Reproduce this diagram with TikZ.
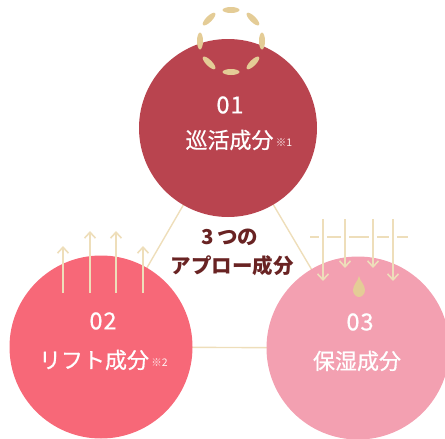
\documentclass[tikz,border=0pt]{standalone}
\usepackage{fontspec}
\setmainfont{Noto Sans CJK JP}
\newfontfamily\cjk{Noto Sans CJK JP}
\newfontfamily\cjkm[FakeBold=0.7]{Noto Sans CJK JP}
\usetikzlibrary{arrows.meta}
\definecolor{cTop}{RGB}{185,68,79}
\definecolor{cLeft}{RGB}{247,104,120}
\definecolor{cRight}{RGB}{243,160,177}
\definecolor{beige}{RGB}{238,222,186}
\definecolor{gold}{RGB}{228,204,150}
\definecolor{maroon}{RGB}{105,35,35}
\pgfdeclarelayer{bg}
\pgfsetlayers{bg,main}
\tikzset{
  ball/.style={circle, inner sep=0pt, minimum size=#1},
  tri/.style={draw=beige, line width=1.4pt},
  flow/.style={draw=beige, line width=1.8pt, -{Straight Barb[length=6pt,width=11pt,line width=1.6pt]}},
  bar/.style={draw=beige, line width=1.6pt},
  num/.style={text=white, font=\cjkm\fontsize{23.5}{23.5}\selectfont, inner sep=0pt},
  lab/.style={text=white, font=\cjkm\fontsize{22}{22}\selectfont, inner sep=0pt},
  note/.style={text=white!80!pink, font=\cjk\fontsize{10.5}{10.5}\selectfont, inner sep=0pt, anchor=west},
  mid/.style={text=maroon, font=\cjk\bfseries\fontsize{20.5}{20.5}\selectfont, inner sep=0pt}
}
\begin{document}
\begin{tikzpicture}[x=1pt,y=-1pt]
\useasboundingbox (0,0) rectangle (445,439);
% circles
\node[ball=178pt, fill=cTop] (c1) at (228,128) {};
\node[ball=183pt, fill=cLeft] (c2) at (101,347) {};
\node[ball=183pt, fill=cRight] (c3) at (358,348) {};
% triangle
\begin{pgfonlayer}{bg}
\draw[tri] (c1.center) -- (c2.center);
\draw[tri] (c1.center) -- (c3.center);
\draw[tri] (c2.center) -- (c3.center);
\end{pgfonlayer}
% ring of beads
\foreach \a in {0,45,...,315}
  \fill[gold, shift={(231,41)}, rotate=\a] (31,0) ellipse [x radius=3, y radius=8.5];
% left arrows
\coordinate (la1) at (63,293); \coordinate (lb1) at (63,246);
\coordinate (la2) at (90,293); \coordinate (lb2) at (90,231);
\coordinate (la3) at (116,293); \coordinate (lb3) at (116,231);
\coordinate (la4) at (143,293); \coordinate (lb4) at (143,246);
\foreach \i in {1,2,3,4} \draw[flow] (la\i) -- (lb\i);
% right bar
\coordinate (h0) at (310,237); \coordinate (h1) at (319,237);
\coordinate (h2) at (327,237); \coordinate (h3) at (341,237);
\coordinate (h4) at (349,237); \coordinate (h5) at (369,237);
\coordinate (h6) at (377,237); \coordinate (h7) at (389,237);
\coordinate (h8) at (397,237); \coordinate (h9) at (408,237);
\draw[bar] (h0) -- (h1); \draw[bar] (h2) -- (h3); \draw[bar] (h4) -- (h5);
\draw[bar] (h6) -- (h7); \draw[bar] (h8) -- (h9);
% right arrows
\coordinate (ra1) at (323,219); \coordinate (rb1) at (323,281);
\coordinate (ra2) at (345,219); \coordinate (rb2) at (345,268);
\coordinate (ra3) at (373,219); \coordinate (rb3) at (373,268);
\coordinate (ra4) at (393,219); \coordinate (rb4) at (393,281);
\foreach \i in {1,2,3,4} \draw[flow] (ra\i) -- (rb\i);
% droplet
\fill[gold] (359,276) .. controls (360,281) and (365,285) .. (365,290)
  .. controls (365,294) and (362,297) .. (359,297)
  .. controls (356,297) and (353,294) .. (353,290)
  .. controls (353,285) and (358,281) .. (359,276) -- cycle;
% texts
\node[num] (t1) at (230,105) {0\kern1pt1};
\node[lab] (t1b) at (229.5,140) {巡活成分};
\node[note] (t1n) at ([xshift=2pt,yshift=-3pt]t1b.east) {※1};
\node[num] (t2) at (103,321) {0\kern1pt2};
\node[lab] (t2b) at (94,360) {リフト成分};
\node[note] (t2n) at ([xshift=2pt,yshift=-3pt]t2b.east) {※2};
\node[num] (t3) at (360,322) {0\kern1pt3};
\node[lab] (t3b) at (357,361) {保湿成分};
\node[mid] (m1) at (230,237) {3\,つの};
\node[mid] (m2) at (232,266) {アプロー成分};
\end{tikzpicture}
\end{document}
